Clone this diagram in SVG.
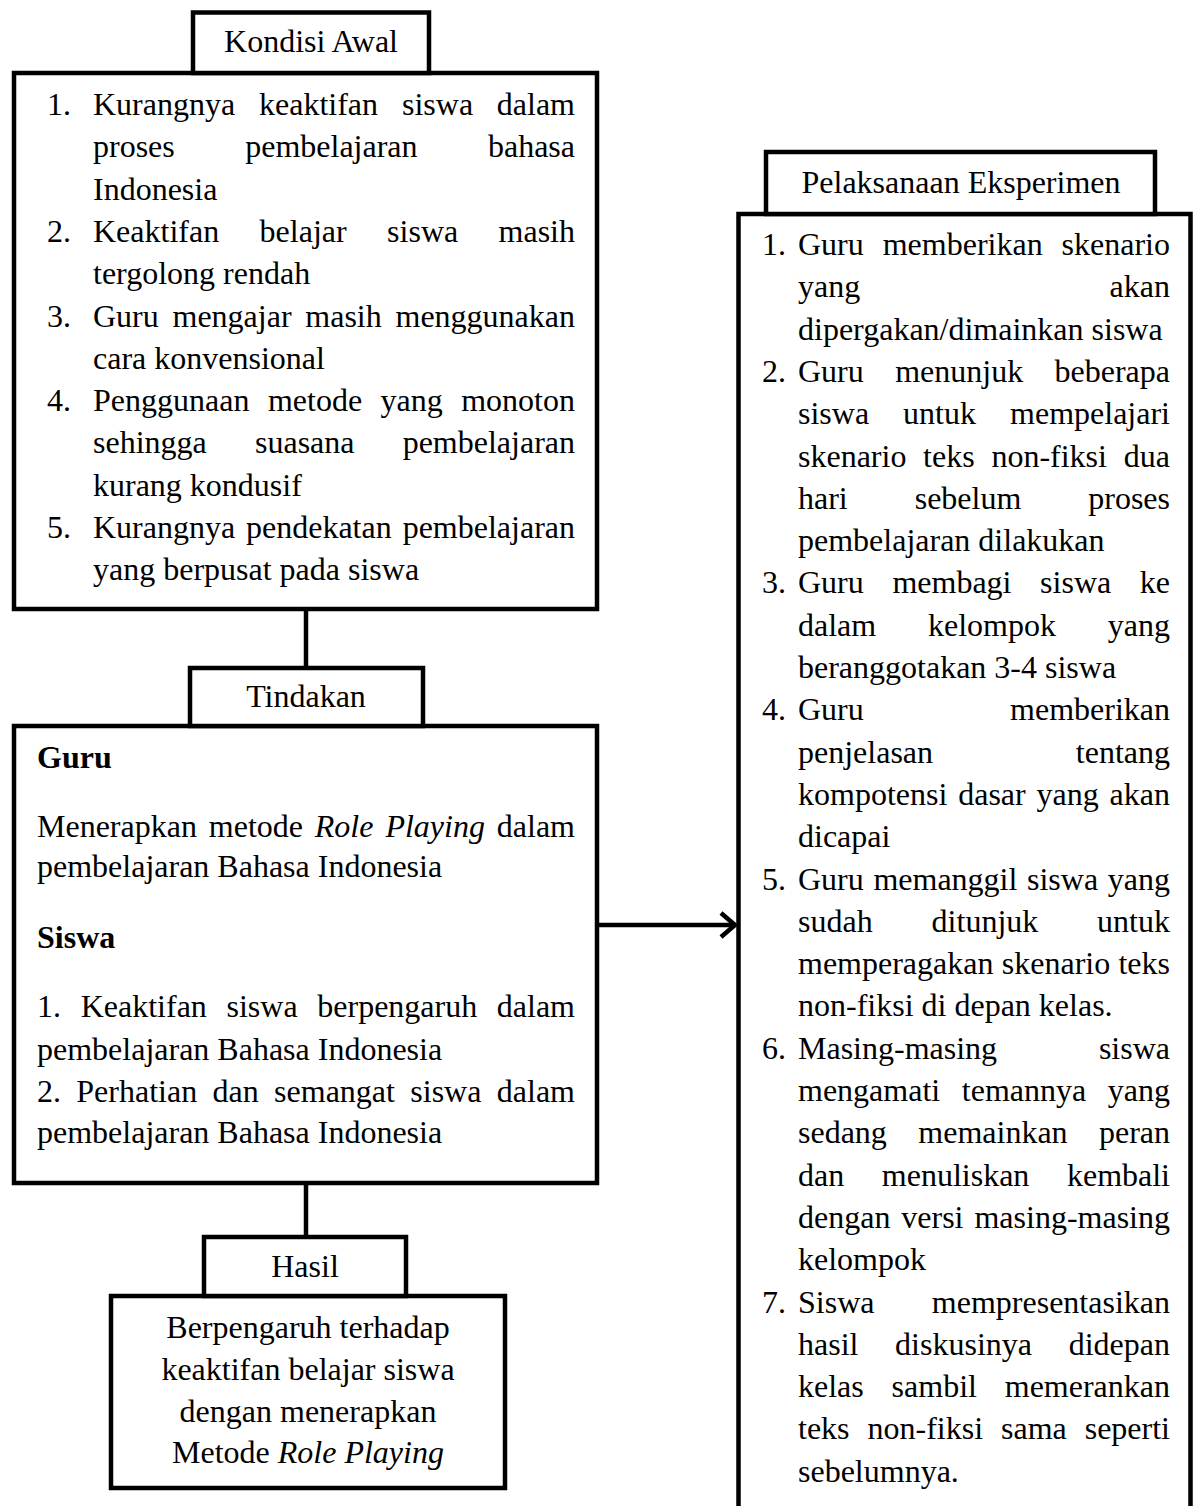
<svg xmlns="http://www.w3.org/2000/svg" width="1200" height="1506" viewBox="0 0 1200 1506">
<style>
.box{fill:#fff;stroke:#000;stroke-width:4.5}
.t{font-family:"Liberation Serif","Times New Roman",serif;font-size:32px;fill:#000}
.c{text-anchor:middle}
.e{text-anchor:end}
.b{font-weight:bold}
.i{font-style:italic}
.ln{stroke:#000;stroke-width:4.5;fill:none}
</style>
<rect width="1200" height="1506" fill="#fff"/>
<g id="connectors">
<line class="ln" x1="306" y1="609" x2="306" y2="668"/>
<line class="ln" x1="306" y1="1183" x2="306" y2="1237"/>
<line class="ln" x1="597" y1="925" x2="734" y2="925"/>
<path class="ln" d="M721,913 L735,925 L721,937" stroke-linejoin="miter"/>
</g>
<g id="kondisi-awal">
<rect class="box" x="14" y="73" width="583" height="536"/>
<rect class="box" x="193" y="12.5" width="236" height="60.5"/>
<text class="t c" x="311" y="52">Kondisi Awal</text>
<text class="t" x="47" y="115">1.</text>
<text class="t" y="115"><tspan x="93">Kurangnya</tspan><tspan x="259">keaktifan</tspan><tspan x="402">siswa</tspan></text>
<text class="t e" x="575" y="115">dalam</text>
<text class="t" y="157.3"><tspan x="93">proses</tspan><tspan x="245.2">pembelajaran</tspan></text>
<text class="t e" x="575" y="157.3">bahasa</text>
<text class="t" x="93" y="199.6">Indonesia</text>
<text class="t" x="47" y="241.9">2.</text>
<text class="t" y="241.9"><tspan x="93">Keaktifan</tspan><tspan x="259.6">belajar</tspan><tspan x="387.1">siswa</tspan></text>
<text class="t e" x="575" y="241.9">masih</text>
<text class="t" x="93" y="284.2">tergolong rendah</text>
<text class="t" x="47" y="326.5">3.</text>
<text class="t" y="326.5"><tspan x="93">Guru</tspan><tspan x="172.5">mengajar</tspan><tspan x="305.3">masih</tspan></text>
<text class="t e" x="575" y="326.5">menggunakan</text>
<text class="t" x="93" y="368.8">cara konvensional</text>
<text class="t" x="47" y="411.1">4.</text>
<text class="t" y="411.1"><tspan x="93">Penggunaan</tspan><tspan x="267.9">metode</tspan><tspan x="380.6">yang</tspan></text>
<text class="t e" x="575" y="411.1">monoton</text>
<text class="t" y="453.4"><tspan x="93">sehingga</tspan><tspan x="255">suasana</tspan></text>
<text class="t e" x="575" y="453.4">pembelajaran</text>
<text class="t" x="93" y="495.7">kurang kondusif</text>
<text class="t" x="47" y="538">5.</text>
<text class="t" y="538"><tspan x="93">Kurangnya</tspan><tspan x="246">pendekatan</tspan></text>
<text class="t e" x="575" y="538">pembelajaran</text>
<text class="t" x="93" y="580.3">yang berpusat pada siswa</text>
</g>
<g id="tindakan">
<rect class="box" x="14" y="726" width="583" height="457"/>
<rect class="box" x="190" y="668" width="233" height="58"/>
<text class="t c" x="306" y="707">Tindakan</text>
<text class="t b" x="37" y="768">Guru</text>
<text class="t" y="837"><tspan x="37">Menerapkan</tspan><tspan x="208.8">metode</tspan><tspan class="i" x="314.8">Role</tspan><tspan class="i" x="385.4">Playing</tspan></text>
<text class="t e" x="575" y="837">dalam</text>
<text class="t" x="37" y="877">pembelajaran Bahasa Indonesia</text>
<text class="t b" x="37" y="948">Siswa</text>
<text class="t" y="1017"><tspan x="37">1.</tspan><tspan x="80.7">Keaktifan</tspan><tspan x="226.5">siswa</tspan><tspan x="317.3">berpengaruh</tspan></text>
<text class="t e" x="575" y="1017">dalam</text>
<text class="t" x="37" y="1060">pembelajaran Bahasa Indonesia</text>
<text class="t" y="1102"><tspan x="37">2.</tspan><tspan x="76.3">Perhatian</tspan><tspan x="212.5">dan</tspan><tspan x="274.1">semangat</tspan><tspan x="410.3">siswa</tspan></text>
<text class="t e" x="575" y="1102">dalam</text>
<text class="t" x="37" y="1143">pembelajaran Bahasa Indonesia</text>
</g>
<g id="hasil">
<rect class="box" x="111" y="1296" width="394" height="192"/>
<rect class="box" x="204" y="1237" width="202" height="59"/>
<text class="t c" x="305" y="1277">Hasil</text>
<text class="t c" x="308" y="1338">Berpengaruh terhadap</text>
<text class="t c" x="308" y="1380">keaktifan belajar siswa</text>
<text class="t c" x="308" y="1422">dengan menerapkan</text>
<text class="t c" x="308" y="1463">Metode <tspan class="i">Role Playing</tspan></text>
</g>
<g id="pelaksanaan-eksperimen">
<rect class="box" x="738.5" y="214" width="452" height="1320"/>
<rect class="box" x="766" y="152" width="389" height="62"/>
<text class="t c" x="961" y="193">Pelaksanaan Eksperimen</text>
<text class="t" x="762" y="255">1.</text>
<text class="t" y="255"><tspan x="798">Guru</tspan><tspan x="882.7">memberikan</tspan></text>
<text class="t e" x="1170" y="255">skenario</text>
<text class="t" x="798" y="297.3">yang</text>
<text class="t e" x="1170" y="297.3">akan</text>
<text class="t" x="798" y="339.6">dipergakan/dimainkan siswa</text>
<text class="t" x="762" y="381.9">2.</text>
<text class="t" y="381.9"><tspan x="798">Guru</tspan><tspan x="895.2">menunjuk</tspan></text>
<text class="t e" x="1170" y="381.9">beberapa</text>
<text class="t" y="424.2"><tspan x="798">siswa</tspan><tspan x="903.1">untuk</tspan></text>
<text class="t e" x="1170" y="424.2">mempelajari</text>
<text class="t" y="466.5"><tspan x="798">skenario</tspan><tspan x="923.1">teks</tspan><tspan x="991.4">non-fiksi</tspan></text>
<text class="t e" x="1170" y="466.5">dua</text>
<text class="t" y="508.8"><tspan x="798">hari</tspan><tspan x="914.7">sebelum</tspan></text>
<text class="t e" x="1170" y="508.8">proses</text>
<text class="t" x="798" y="551.1">pembelajaran dilakukan</text>
<text class="t" x="762" y="593.4">3.</text>
<text class="t" y="593.4"><tspan x="798">Guru</tspan><tspan x="892.4">membagi</tspan><tspan x="1040.1">siswa</tspan></text>
<text class="t e" x="1170" y="593.4">ke</text>
<text class="t" y="635.7"><tspan x="798">dalam</tspan><tspan x="928">kelompok</tspan></text>
<text class="t e" x="1170" y="635.7">yang</text>
<text class="t" x="798" y="678">beranggotakan 3-4 siswa</text>
<text class="t" x="762" y="720.3">4.</text>
<text class="t" x="798" y="720.3">Guru</text>
<text class="t e" x="1170" y="720.3">memberikan</text>
<text class="t" x="798" y="762.6">penjelasan</text>
<text class="t e" x="1170" y="762.6">tentang</text>
<text class="t" y="804.9"><tspan x="798">kompotensi</tspan><tspan x="958.2">dasar</tspan><tspan x="1036.6">yang</tspan></text>
<text class="t e" x="1170" y="804.9">akan</text>
<text class="t" x="798" y="847.2">dicapai</text>
<text class="t" x="762" y="889.5">5.</text>
<text class="t" y="889.5"><tspan x="798">Guru</tspan><tspan x="873.4">memanggil</tspan><tspan x="1027">siswa</tspan></text>
<text class="t e" x="1170" y="889.5">yang</text>
<text class="t" y="931.8"><tspan x="798">sudah</tspan><tspan x="931.6">ditunjuk</tspan></text>
<text class="t e" x="1170" y="931.8">untuk</text>
<text class="t" y="974.1"><tspan x="798">memperagakan</tspan><tspan x="1001.8">skenario</tspan></text>
<text class="t e" x="1170" y="974.1">teks</text>
<text class="t" x="798" y="1016.4">non-fiksi di depan kelas.</text>
<text class="t" x="762" y="1058.7">6.</text>
<text class="t" x="798" y="1058.7">Masing-masing</text>
<text class="t e" x="1170" y="1058.7">siswa</text>
<text class="t" y="1101"><tspan x="798">mengamati</tspan><tspan x="961.8">temannya</tspan></text>
<text class="t e" x="1170" y="1101">yang</text>
<text class="t" y="1143.3"><tspan x="798">sedang</tspan><tspan x="918.3">memainkan</tspan></text>
<text class="t e" x="1170" y="1143.3">peran</text>
<text class="t" y="1185.6"><tspan x="798">dan</tspan><tspan x="881.8">menuliskan</tspan></text>
<text class="t e" x="1170" y="1185.6">kembali</text>
<text class="t" y="1227.9"><tspan x="798">dengan</tspan><tspan x="901.3">versi</tspan></text>
<text class="t e" x="1170" y="1227.9">masing-masing</text>
<text class="t" x="798" y="1270.2">kelompok</text>
<text class="t" x="762" y="1312.5">7.</text>
<text class="t" x="798" y="1312.5">Siswa</text>
<text class="t e" x="1170" y="1312.5">mempresentasikan</text>
<text class="t" y="1354.8"><tspan x="798">hasil</tspan><tspan x="895.1">diskusinya</tspan></text>
<text class="t e" x="1170" y="1354.8">didepan</text>
<text class="t" y="1397.1"><tspan x="798">kelas</tspan><tspan x="891.6">sambil</tspan></text>
<text class="t e" x="1170" y="1397.1">memerankan</text>
<text class="t" y="1439.4"><tspan x="798">teks</tspan><tspan x="867.5">non-fiksi</tspan><tspan x="1001">sama</tspan></text>
<text class="t e" x="1170" y="1439.4">seperti</text>
<text class="t" x="798" y="1481.7">sebelumnya.</text>
</g>
</svg>
